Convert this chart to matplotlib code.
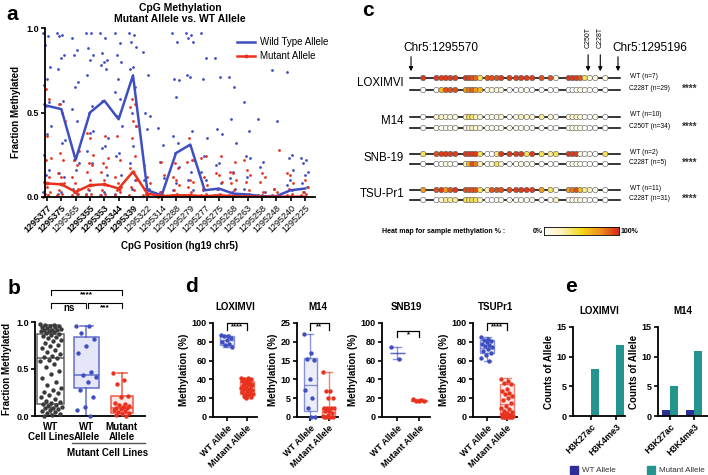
import numpy as np
import matplotlib
matplotlib.use("Agg")
import matplotlib.pyplot as plt
from matplotlib.colors import LinearSegmentedColormap
from matplotlib.patches import Rectangle

plt.rcParams['font.family'] = ['Liberation Sans', 'DejaVu Sans']

# ── data ──────────────────────────────────────────────────────────────────────
# panel a: CpG positions, mean lines and per-sample points
a_pos = ['1295377', '1295375', '1295365', '1295355', '1295353', '1295344', '1295339',
         '1295322', '1295314', '1295288', '1295279', '1295277', '1295275', '1295268',
         '1295263', '1295258', '1295248', '1295240', '1295225']
a_bold = ['1295377', '1295375', '1295355', '1295353', '1295344', '1295339']
a_wt_mean = [0.54, 0.52, 0.22, 0.50, 0.57, 0.46, 0.72, 0.04, 0.01, 0.26, 0.31, 0.04,
             0.05, 0.02, 0.015, 0.005, 0.005, 0.04, 0.05]
a_mut_mean = [0.08, 0.075, 0.03, 0.07, 0.075, 0.05, 0.15, 0.02, 0.005, 0.01, 0.01, 0.005,
              0.01, 0.005, 0.003, 0.002, 0.002, 0.002, 0.002]
a_wt_pts = [
    [0.97, 0.95, 0.90, 0.77, 0.70, 0.66, 0.56, 0.54, 0.42, 0.37, 0.25, 0.16, 0.13, 0.03, 0.01],
    [0.97, 0.96, 0.95, 0.84, 0.82, 0.76, 0.57, 0.55, 0.34, 0.32, 0.14, 0.12, 0.03, 0.02],
    [0.94, 0.87, 0.84, 0.68, 0.65, 0.52, 0.45, 0.22, 0.20, 0.16, 0.05, 0.02],
    [0.97, 0.97, 0.88, 0.84, 0.81, 0.72, 0.54, 0.50, 0.39, 0.38, 0.27, 0.20, 0.04, 0.02],
    [0.97, 0.94, 0.85, 0.81, 0.80, 0.78, 0.76, 0.57, 0.35, 0.30, 0.29, 0.13, 0.03, 0.01],
    [0.97, 0.91, 0.84, 0.80, 0.70, 0.62, 0.58, 0.48, 0.42, 0.26, 0.24, 0.13, 0.05, 0.02],
    [0.97, 0.96, 0.92, 0.89, 0.77, 0.76, 0.65, 0.50, 0.42, 0.30, 0.20, 0.10, 0.05],
    [0.86, 0.72, 0.50, 0.48, 0.40, 0.10, 0.05, 0.02],
    [0.41, 0.31, 0.21, 0.11, 0.03, 0.01],
    [0.97, 0.92, 0.70, 0.69, 0.59, 0.36, 0.32, 0.26, 0.18, 0.08, 0.04],
    [0.97, 0.96, 0.94, 0.92, 0.71, 0.72, 0.39, 0.31, 0.22, 0.15, 0.10, 0.04],
    [0.97, 0.82, 0.70, 0.35, 0.24, 0.15, 0.10, 0.04],
    [0.82, 0.71, 0.40, 0.37, 0.20, 0.19, 0.08, 0.05],
    [0.71, 0.65, 0.46, 0.32, 0.15, 0.11, 0.05, 0.03],
    [0.56, 0.39, 0.24, 0.23, 0.12, 0.05, 0.02],
    [0.46, 0.21, 0.18, 0.03, 0.01],
    [0.75, 0.45, 0.05, 0.01],
    [0.74, 0.25, 0.23, 0.16, 0.10, 0.07, 0.04],
    [0.23, 0.22, 0.20, 0.15, 0.13, 0.08, 0.06, 0.03],
]
a_mut_pts = [
    [0.64, 0.58, 0.55, 0.36, 0.23, 0.22, 0.12, 0.09, 0.06, 0.03, 0.02, 0.01, 0.0],
    [0.55, 0.50, 0.45, 0.26, 0.22, 0.14, 0.12, 0.08, 0.04, 0.02, 0.01],
    [0.27, 0.22, 0.19, 0.12, 0.08, 0.05, 0.03, 0.02, 0.01],
    [0.38, 0.35, 0.25, 0.20, 0.19, 0.15, 0.10, 0.07, 0.05, 0.02, 0.01],
    [0.57, 0.36, 0.23, 0.20, 0.18, 0.15, 0.10, 0.07, 0.04, 0.02, 0.01],
    [0.36, 0.22, 0.12, 0.08, 0.06, 0.04, 0.03, 0.01],
    [0.58, 0.55, 0.53, 0.45, 0.42, 0.35, 0.24, 0.17, 0.15, 0.10, 0.06, 0.04, 0.01],
    [0.19, 0.12, 0.08, 0.05, 0.02, 0.01],
    [0.21, 0.13, 0.03, 0.01, 0.0],
    [0.20, 0.17, 0.12, 0.10, 0.07, 0.04, 0.02, 0.01],
    [0.35, 0.22, 0.21, 0.10, 0.09, 0.06, 0.03, 0.01],
    [0.24, 0.23, 0.12, 0.07, 0.05, 0.02, 0.01],
    [0.24, 0.14, 0.13, 0.09, 0.05, 0.02, 0.01],
    [0.21, 0.15, 0.14, 0.10, 0.08, 0.04, 0.01],
    [0.22, 0.16, 0.13, 0.09, 0.04, 0.01],
    [0.14, 0.12, 0.09, 0.03, 0.01],
    [0.28, 0.05, 0.03, 0.01],
    [0.14, 0.13, 0.08, 0.05, 0.02, 0.01],
    [0.10, 0.06, 0.03, 0.02, 0.01],
]

# panel b: fraction methylated by group
b_groups = ['WT\nCell Lines', 'WT\nAllele', 'Mutant\nAllele']
b_wt_lines = [0.98, 0.97, 0.97, 0.96, 0.96, 0.95, 0.95, 0.94, 0.93, 0.92, 0.92, 0.91, 0.90,
              0.90, 0.89, 0.88, 0.87, 0.86, 0.85, 0.84, 0.83, 0.81, 0.80, 0.78, 0.76, 0.74,
              0.72, 0.70, 0.68, 0.66, 0.64, 0.63, 0.62, 0.60, 0.58, 0.55, 0.52, 0.48, 0.45,
              0.40, 0.36, 0.33, 0.30, 0.28, 0.26, 0.25, 0.22, 0.20, 0.18, 0.16, 0.15, 0.14,
              0.13, 0.12, 0.11, 0.10, 0.09, 0.08, 0.07, 0.06, 0.05, 0.04, 0.03, 0.02, 0.01, 0.0]
b_wt_allele = [0.96, 0.96, 0.88, 0.82, 0.75, 0.67, 0.47, 0.44, 0.41, 0.36, 0.28, 0.20, 0.10,
               0.06, 0.0]
b_mut_allele = [0.46, 0.38, 0.34, 0.21, 0.20, 0.14, 0.13, 0.12, 0.11, 0.10, 0.09, 0.08, 0.07,
                0.06, 0.05, 0.04, 0.03, 0.02, 0.01, 0.0]
# whislo, q1, med, q3, whishi
b_stats = [[0.0, 0.13, 0.62, 0.87, 0.97],
           [0.0, 0.30, 0.44, 0.84, 0.96],
           [0.0, 0.03, 0.09, 0.21, 0.46]]

# panel c: CpG sites (hg19 chr5) and per-row methylation %
c_start, c_end = 1295570, 1295196
c_mutations = {'C250T': 1295250, 'C228T': 1295228}
c_cpg = [1295548, 1295524, 1295515, 1295507, 1295499, 1295490, 1295471, 1295465, 1295459,
         1295453, 1295445, 1295432, 1295424, 1295415, 1295407, 1295392, 1295380, 1295371,
         1295361, 1295351, 1295334, 1295318, 1295308, 1295285, 1295278, 1295271, 1295264,
         1295256, 1295247, 1295237, 1295219]
c_lines = ['LOXIMVI', 'M14', 'SNB-19', 'TSU-Pr1']
c_wt_labels = ['WT (n=7)', 'WT (n=10)', 'WT (n=2)', 'WT (n=11)']
c_mut_labels = ['C228T (n=29)', 'C250T (n=34)', 'C228T (n=5)', 'C228T (n=31)']
c_sig = ['****', '****', '****', '****']
c_meth = [
    [95, 95, 95, 95, 95, 95, 95, 95, 90, 85, 40, 90, 90, 90, 95, 95, 95, 95, 95, 95, 90, 90, 10, 95, 95, 95, 90, 40, 10, 10, 10],
    [0, 0, 60, 90, 90, 90, 70, 80, 85, 70, 60, 10, 10, 10, 10, 0, 0, 5, 5, 0, 0, 0, 0, 0, 0, 5, 10, 5, 0, 0, 0],
    [0, 15, 20, 10, 10, 10, 20, 45, 35, 20, 15, 5, 10, 10, 15, 0, 10, 20, 15, 10, 30, 15, 0, 15, 15, 20, 10, 5, 0, 10, 0],
    [0, 5, 5, 5, 5, 5, 5, 10, 20, 15, 10, 0, 5, 5, 5, 0, 0, 5, 5, 5, 0, 0, 0, 5, 5, 10, 5, 0, 0, 0, 0],
    [40, 90, 95, 95, 95, 95, 95, 95, 95, 95, 40, 0, 0, 35, 95, 95, 95, 95, 40, 95, 40, 30, 40, 95, 95, 95, 10, 5, 5, 0, 40],
    [0, 0, 0, 10, 10, 0, 20, 60, 90, 80, 20, 5, 10, 40, 10, 0, 5, 10, 5, 5, 0, 0, 0, 0, 5, 10, 5, 0, 0, 0, 0],
    [70, 90, 95, 70, 90, 95, 90, 90, 90, 90, 40, 20, 90, 90, 90, 90, 95, 95, 95, 95, 70, 40, 5, 70, 80, 90, 60, 30, 20, 5, 0],
    [0, 0, 10, 30, 30, 30, 40, 40, 40, 40, 20, 0, 0, 5, 5, 0, 0, 5, 5, 5, 0, 0, 20, 5, 5, 10, 10, 5, 0, 0, 0],
]

# panel d: per cell line methylation (%)
d_names = ['LOXIMVI', 'M14', 'SNB19', 'TSUPr1']
d_cats = ['WT Allele', 'Mutant Allele']
d_ymax = [100, 25, 100, 100]
d_yticks = [[0, 20, 40, 60, 80, 100], [0, 5, 10, 15, 20, 25],
            [0, 20, 40, 60, 80, 100], [0, 20, 40, 60, 80, 100]]
d_sig = ['****', '**', '*', '****']
d_sig_y = [100, 25, 92, 100]
d_wt = [[87, 86, 86, 84, 82, 80, 78, 77, 75],
        [22, 17, 15.3, 15.1, 10.2, 7.3, 5.1, 2.4, 0, 0],
        [75, 62],
        [85, 83, 82, 81, 80, 78, 77, 76, 74, 72, 70, 68, 66, 63, 60]]
d_mut = [[42, 41, 40, 40, 39, 38, 37, 36, 35, 35, 34, 33, 32, 31, 30, 30, 29, 28, 27, 26,
          25, 24, 23, 22, 21, 20],
         [12, 7, 7, 5, 5, 2.4, 2.4, 2.4, 2.4, 1.5, 1.5, 1, 0.5, 0.3, 0, 0, 0, 0, 0],
         [19, 18, 17.5, 17, 17],
         [40, 38, 36, 35, 30, 28, 26, 25, 22, 20, 18, 15, 12, 10, 8, 6, 5, 4, 3, 2, 2, 1, 1,
          0, 0, 0, 0, 0, 0, 0, 0]]
d_wt_stats = [[75, 77, 82, 86, 87], [0, 1.5, 8.5, 15.6, 22], [62, 68, 68, 68, 75], [60, 68, 73, 82, 85]]
d_mut_stats = [[20, 25, 33, 38, 42], [0, 0.3, 1.3, 2.5, 12], [17, 17, 17.5, 18.5, 19], [0, 2, 14, 35, 41]]

# panel e: allele counts by histone mark
e_names = ['LOXIMVI', 'M14']
e_marks = ['H3K27ac', 'H3K4me3']
e_wt = [[0, 0], [1, 1]]
e_mut = [[8, 12], [5, 11]]

BLUE = '#3f4fc2'
RED = '#e8321e'
TEAL = '#24948e'
NAVY = '#2d2f96'
GREY = '#3a3a3a'

W, H = 708, 475
fig = plt.figure(figsize=(W / 100, H / 100), dpi=100)


def rect(l, t, r, b):
    return [l / W, 1 - b / H, (r - l) / W, (b - t) / H]


def ftext(x, y, s, **kw):
    fig.text(x / W, 1 - y / H, s, **kw)


def style(ax, fs=6.5):
    for s in ['top', 'right']:
        ax.spines[s].set_visible(False)
    for s in ['left', 'bottom']:
        ax.spines[s].set_linewidth(1.3)
    ax.tick_params(width=1.2, length=3, labelsize=fs, pad=1.5)
    for lab in ax.get_yticklabels():
        lab.set_fontweight('bold')


def jitter(n, width):
    return ((np.arange(n) * 0.618) % 1 - 0.5) * width


# ── panel a ───────────────────────────────────────────────────────────────────
ax = fig.add_axes(rect(45, 28, 315, 197))
xa = np.arange(len(a_pos))
for i in xa:
    ax.scatter(i + jitter(len(a_wt_pts[i]), 0.55), a_wt_pts[i], s=4, color=BLUE, lw=0, clip_on=False)
    ax.scatter(i + jitter(len(a_mut_pts[i]), 0.55)[::-1], a_mut_pts[i], s=4, color=RED, lw=0, clip_on=False)
ax.plot(xa, a_wt_mean, color=BLUE, lw=1.8, label='Wild Type Allele')
ax.plot(xa, a_mut_mean, color=RED, lw=1.8, marker='o', ms=1.8, label='Mutant Allele')
ax.set_xlim(-0.14, 18.7)
ax.set_ylim(0, 1)
ax.set_yticks([0, 0.5, 1.0])
ax.set_xticks(xa)
ax.set_xticklabels(a_pos, rotation=45, ha='right', rotation_mode='anchor')
style(ax)
for lab in ax.get_xticklabels():
    lab.set_fontweight('bold' if lab.get_text() in a_bold else 'normal')
ax.set_ylabel('Fraction Methylated', fontsize=7, fontweight='bold', labelpad=4)
ax.set_xlabel('CpG Position (hg19 chr5)', fontsize=7, fontweight='bold', labelpad=5)
ax.set_title('CpG Methylation\nMutant Allele vs. WT Allele', fontsize=7.5, fontweight='bold',
             pad=4, linespacing=1.2)
fig.legend(*ax.get_legend_handles_labels(), loc='upper left', bbox_to_anchor=(237 / W, 1 - 37 / H),
           frameon=False, fontsize=7, handlelength=1.9, handletextpad=0.5, labelspacing=0.45,
           borderpad=0, borderaxespad=0)
ftext(6, 14, 'a', fontsize=15, fontweight='bold', va='center')

# ── panel b ───────────────────────────────────────────────────────────────────
ax = fig.add_axes(rect(35, 322, 145, 416))
b_pts = [b_wt_lines, b_wt_allele, b_mut_allele]
b_cols = [GREY, BLUE, RED]
b_fill = ['none', '#dfe2f7', '#fde0dc']
b_width = [0.76, 0.72, 0.6]
for i, st in enumerate(b_stats):
    bx = dict(whislo=st[0], q1=st[1], med=st[2], q3=st[3], whishi=st[4])
    ax.bxp([bx], positions=[i], widths=b_width[i], showfliers=False, patch_artist=True,
           boxprops=dict(facecolor=b_fill[i], edgecolor=b_cols[i], lw=1.1, alpha=0.8),
           medianprops=dict(color=b_cols[i], lw=1.1, alpha=0.8),
           whiskerprops=dict(color=b_cols[i], lw=1.1, alpha=0.8),
           capprops=dict(color=b_cols[i], lw=1.1, alpha=0.8))
    ax.scatter(i + jitter(len(b_pts[i]), b_width[i] * 0.8), b_pts[i], s=10, color=b_cols[i],
               lw=0, zorder=3, clip_on=False)
ax.set_xlim(-0.45, 2.65)
ax.set_ylim(0, 1)
ax.set_yticks([0, 0.5, 1.0])
ax.set_xticks([0, 1, 2])
ax.set_xticklabels(b_groups, fontsize=7, fontweight='bold', linespacing=1.1)
style(ax)
ax.tick_params(axis='x', length=0, pad=4)
for lab in ax.get_xticklabels():
    lab.set_fontsize(7)
ax.set_ylabel('Fraction Methylated', fontsize=7, fontweight='bold', labelpad=3)
# significance brackets
for (x0, x1, yb, txt) in [(0, 1, 1.20, 'ns'), (1.05, 2, 1.20, '***'), (0, 2, 1.34, '****')]:
    ax.plot([x0, x0, x1, x1], [yb - 0.05, yb, yb, yb - 0.05], color='k', lw=0.8, clip_on=False)
    ax.text((x0 + x1) / 2, yb - 0.05, txt, ha='center', va='center', fontsize=6 if txt != 'ns' else 7,
            fontweight='bold')
ax.plot([0.6, 2.65], [-0.29, -0.29], color='#555555', lw=1, clip_on=False)
ftext(108, 453, 'Mutant Cell Lines', fontsize=7, fontweight='bold', ha='center', va='center')
ftext(8, 288, 'b', fontsize=15, fontweight='bold', va='center')

# ── panel c ───────────────────────────────────────────────────────────────────
cmap = LinearSegmentedColormap.from_list('meth', ['#ffffff', '#fbf0b0', '#f6d81a', '#f0901e', '#d6281b'])
axc = fig.add_axes(rect(360, 0, 708, 260))
px_per_bp = 207 / (c_start - c_end)
axc.set_xlim(c_start + 51 / px_per_bp, c_start - 297 / px_per_bp)
axc.set_ylim(260, 0)
axc.axis('off')
row_y = [(78, 90), (117, 128), (154, 164), (190, 200)]
label_y = [83, 121, 158, 194]
for r, name in enumerate(c_lines):
    for k, y in enumerate(row_y[r]):
        axc.plot([c_start + 2, c_end - 4], [y, y], color='k', lw=1.1, zorder=1)
        axc.scatter(c_cpg, [y] * len(c_cpg), c=c_meth[2 * r + k], cmap=cmap, vmin=0, vmax=100,
                    s=15, edgecolors='#555555', linewidths=0.4, zorder=2)
    ftext(404, label_y[r], name, fontsize=8.3, ha='right', va='center')
    ftext(630, row_y[r][0] - 2, c_wt_labels[r], fontsize=4.8, va='center')
    ftext(629, row_y[r][1] - 1, c_mut_labels[r], fontsize=4.8, va='center')
    ftext(682, row_y[r][1] - 1, c_sig[r], fontsize=7, fontweight='bold', va='center', color='#333333')
arrow = dict(arrowstyle='-|>', color='k', lw=0.8, mutation_scale=6)
axc.annotate('', xy=(c_start, 74), xytext=(c_start, 54), arrowprops=arrow)
axc.annotate('', xy=(c_end, 74), xytext=(c_end, 54), arrowprops=arrow)
for mut, pos in c_mutations.items():
    axc.annotate('', xy=(pos, 74), xytext=(pos, 52), arrowprops=arrow)
    axc.text(pos, 48, mut, rotation=90, fontsize=5, ha='center', va='bottom')
axc.text(c_start + 14, 48, 'Chr5:%d' % c_start, fontsize=8.5, ha='left', va='center')
axc.text(c_end + 10, 48, 'Chr5:%d' % c_end, fontsize=8.5, ha='left', va='center')
ftext(382, 231, 'Heat map for sample methylation % :', fontsize=5, fontweight='bold', va='center')
ftext(533, 231, '0%', fontsize=5, fontweight='bold', va='center')
ftext(621, 231, '100%', fontsize=5, fontweight='bold', va='center')
cax = fig.add_axes(rect(544, 227, 619, 235))
cax.imshow(np.linspace(0, 1, 256)[None, :], aspect='auto', cmap=cmap)
cax.set_xticks([])
cax.set_yticks([])
for s in cax.spines.values():
    s.set_linewidth(0.6)
ftext(362, 10, 'c', fontsize=15, fontweight='bold', va='center')

# ── panel d ───────────────────────────────────────────────────────────────────
d_boxes = [(213, 257), (297, 338), (382, 430), (473, 517)]
for j, name in enumerate(d_names):
    ax = fig.add_axes(rect(d_boxes[j][0], 323, d_boxes[j][1], 417))
    for i, (pts, st, col, fill) in enumerate([(d_wt[j], d_wt_stats[j], BLUE, '#dfe2f7'),
                                               (d_mut[j], d_mut_stats[j], RED, '#fde0dc')]):
        bx = dict(whislo=st[0], q1=st[1], med=st[2], q3=st[3], whishi=st[4])
        ax.bxp([bx], positions=[i], widths=0.7, showfliers=False, patch_artist=True,
               boxprops=dict(facecolor=fill, edgecolor=col, lw=1, alpha=0.6),
               medianprops=dict(color=col, lw=1, alpha=0.6),
               whiskerprops=dict(color=col, lw=1, alpha=0.6),
               capprops=dict(color=col, lw=1, alpha=0.6))
        ax.scatter(i + jitter(len(pts), 0.6), pts, s=10, color=col, lw=0, zorder=3, clip_on=False)
    ax.set_xlim(-0.7, 1.5)
    ax.set_ylim(0, d_ymax[j])
    ax.set_yticks(d_yticks[j])
    ax.set_xticks([0, 1])
    ax.set_xticklabels(d_cats, rotation=45, ha='right', rotation_mode='anchor', fontweight='bold')
    style(ax)
    ax.set_ylabel('Methylation (%)', fontsize=7, fontweight='bold', labelpad=2)
    ax.set_title(name, fontsize=7, fontweight='bold', pad=9)
    ys = d_sig_y[j]
    dy = d_ymax[j] * 0.07
    ax.plot([0, 0, 1, 1], [ys - dy, ys, ys, ys - dy], color='k', lw=0.9, clip_on=False)
    ax.text(0.5, ys - dy * 0.6, d_sig[j], ha='center', va='center', fontsize=5.5, fontweight='bold')
ftext(185, 287, 'd', fontsize=15, fontweight='bold', va='center')

# ── panel e ───────────────────────────────────────────────────────────────────
e_boxes = [(573, 625, (-0.72, 1.36)), (658, 708, (-0.5, 1.58))]
for j, name in enumerate(e_names):
    l, r, xl = e_boxes[j]
    ax = fig.add_axes(rect(l, 327, r, 416))
    xe = np.arange(len(e_marks))
    ax.bar(xe - 0.16, e_wt[j], width=0.32, color=NAVY, label='WT Allele')
    ax.bar(xe + 0.16, e_mut[j], width=0.32, color=TEAL, label='Mutant Allele')
    ax.set_xlim(*xl)
    ax.set_ylim(0, 15)
    ax.set_yticks([0, 5, 10, 15])
    ax.set_xticks(xe)
    ax.set_xticklabels(e_marks, rotation=45, ha='right', rotation_mode='anchor', fontweight='bold')
    style(ax)
    ax.set_ylabel('Counts of Allele', fontsize=7, fontweight='bold', labelpad=2)
    ax.set_title(name, fontsize=7, fontweight='bold', pad=9)
# legend squares drawn by hand so both entries fit before the right edge
for (x0, col, lab) in [(570, NAVY, 'WT Allele'), (647, TEAL, 'Mutant Allele')]:
    fig.patches.append(Rectangle((x0 / W, 1 - 474 / H), 8 / W, 8 / H, color=col,
                                 transform=fig.transFigure, figure=fig))
    ftext(x0 + 12, 470, lab, fontsize=5.8, va='center', color='#333333')
ftext(565, 287, 'e', fontsize=15, fontweight='bold', va='center')

fig.savefig('out.png', dpi=100)
